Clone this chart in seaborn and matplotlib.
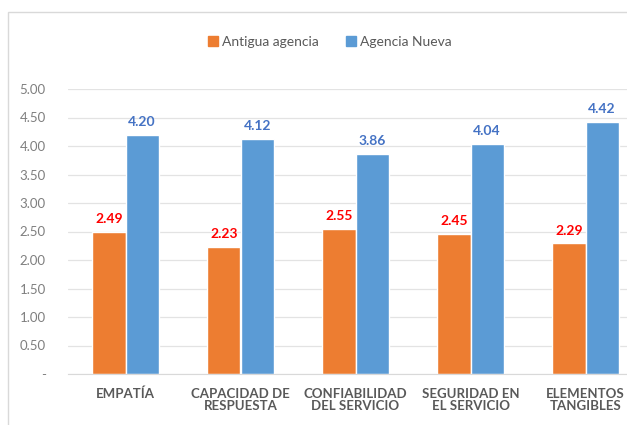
import pandas as pd
import matplotlib.pyplot as plt
import seaborn as sns
from matplotlib.patches import Rectangle

categorias = ["EMPATÍA", "CAPACIDAD DE\nRESPUESTA", "CONFIABILIDAD\nDEL SERVICIO",
              "SEGURIDAD EN\nEL SERVICIO", "ELEMENTOS\nTANGIBLES"]
antigua = [2.49, 2.23, 2.55, 2.45, 2.29]
nueva = [4.20, 4.12, 3.86, 4.04, 4.42]
series = ["Antigua agencia", "Agencia Nueva"]
yticks = [0, 0.5, 1, 1.5, 2, 2.5, 3, 3.5, 4, 4.5, 5]
yticklabels = ["-", "0.50", "1.00", "1.50", "2.00", "2.50", "3.00", "3.50", "4.00", "4.50", "5.00"]

df = pd.DataFrame({
    "cat": categorias * 2,
    "serie": [series[0]] * 5 + [series[1]] * 5,
    "valor": antigua + nueva,
})

sns.set_style("white")
plt.rcParams["font.family"] = ["Lato", "DejaVu Sans"]

fig = plt.figure(figsize=(6.27, 4.25), dpi=100)
ax = fig.add_axes([68 / 627, 51 / 425, 575 / 627, 285 / 425])
sns.barplot(data=df, x="cat", y="valor", hue="serie", palette=["#ED7D31", "#5B9BD5"],
            width=0.58, saturation=1, ax=ax, legend=False)

colores = ["#FF0000", "#4472C4"]
for cont, col in zip(ax.containers, colores):
    ax.bar_label(cont, fmt="%.2f", color=col, fontsize=10, fontweight="bold", padding=5)

ax.set_ylim(0, 5)
ax.set_xlim(-0.5, 4.5)
ax.set_yticks(yticks)
ax.set_yticklabels(yticklabels, color="#7f7f7f", fontsize=9.5)
ax.tick_params(axis="y", length=0, pad=16)
ax.tick_params(axis="x", length=0, pad=10, labelsize=9.5, labelcolor="#595959")
for t in ax.get_xticklabels():
    t.set_fontweight("bold")
    t.set_linespacing(1.05)
ax.yaxis.grid(True, color="#e3e3e3", linewidth=0.9)
ax.set_axisbelow(True)
ax.set_xlabel("")
ax.set_ylabel("")
for s in ["top", "right", "left"]:
    ax.spines[s].set_visible(False)
ax.spines["bottom"].set_color("#d9d9d9")

handles = [Rectangle((0, 0), 1, 1, color=c) for c in ["#ED7D31", "#5B9BD5"]]
fig.legend(handles, series, loc="center", bbox_to_anchor=(330 / 627, 1 - 42 / 425),
           ncol=2, frameon=False, fontsize=10, handlelength=0.7, handleheight=0.7,
           handletextpad=0.3, columnspacing=2.0, labelcolor="#595959")

fig.patches.append(Rectangle((8 / 627, -0.01), 1.0, 1 - 12 / 425 + 0.01, transform=fig.transFigure,
                             fill=False, edgecolor="#d9d9d9", linewidth=1))

fig.savefig("out.png", dpi=100)
